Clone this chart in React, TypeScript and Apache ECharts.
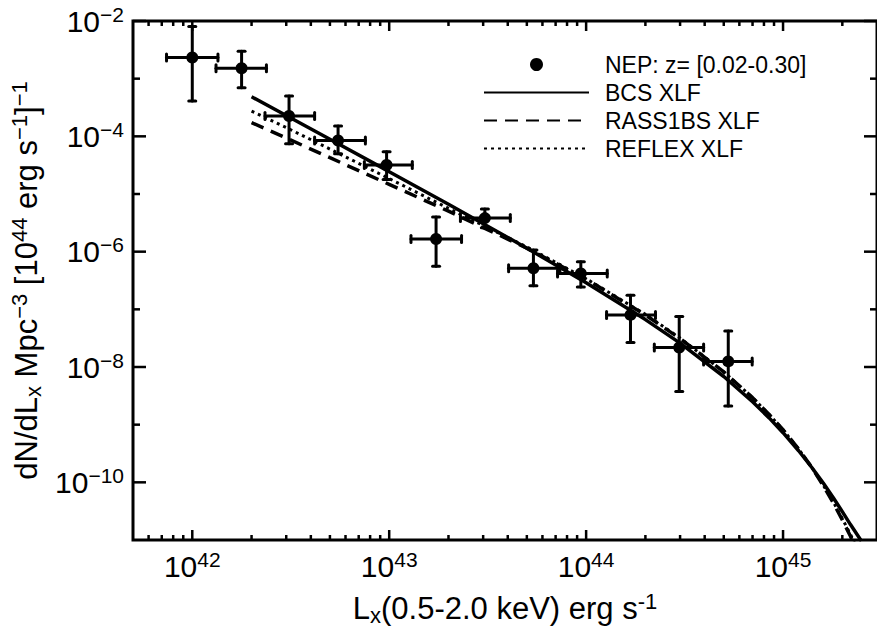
import React, { useEffect, useRef } from 'react';
import * as echarts from 'echarts';

const FONT = '"Liberation Sans", Arial, Helvetica, sans-serif';

// Axis ranges
const X_MIN = 5e41;
const X_MAX = 3e45;
const Y_MIN = 1e-11;
const Y_MAX = 1e-2;

// NEP data points (z = 0.02-0.30)
const nepLx = [1.0e42, 1.78e42, 3.1e42, 5.5e42, 9.7e42, 1.73e43, 3.06e43, 5.4e43, 9.4e43, 1.68e44, 2.97e44, 5.27e44];
const nepLxLow = [7.4e41, 1.32e42, 2.34e42, 4.18e42, 7.48e42, 1.29e43, 2.3e43, 4.04e43, 7.16e43, 1.27e44, 2.22e44, 3.95e44];
const nepLxHigh = [1.35e42, 2.38e42, 4.18e42, 7.57e42, 1.31e43, 2.33e43, 4.12e43, 7.36e43, 1.28e44, 2.25e44, 3.95e44, 6.97e44];
const nepPhi = [2.33e-3, 1.52e-3, 2.25e-4, 8.45e-5, 3.18e-5, 1.66e-6, 3.82e-6, 5.15e-7, 4.19e-7, 8.0e-8, 2.18e-8, 1.25e-8];
const nepPhiLow = [4.1e-4, 6.95e-4, 7.4e-5, 5.0e-5, 1.78e-5, 5.6e-7, 2.6e-6, 2.57e-7, 2.43e-7, 2.65e-8, 3.77e-9, 2.1e-9];
const nepPhiHigh = [8.0e-3, 3.0e-3, 5.0e-4, 1.51e-4, 5.4e-5, 3.98e-6, 5.5e-6, 1.07e-6, 6.7e-7, 1.75e-7, 7.5e-8, 4.19e-8];

// XLF curves
const xlfLx = [2e42, 3e42, 5e42, 1e43, 2e43, 5e43, 1e44, 2e44, 3e44, 5e44, 7e44, 8.5e44, 1e45, 1.2e45, 1.4e45, 1.6e45, 1.8e45, 2e45, 2.2e45, 2.5e45];
const bcsPhi = [4.86e-4, 2.3e-4, 8.89e-5, 2.44e-5, 6.64e-6, 1.15e-6, 2.9e-7, 6.64e-8, 2.59e-8, 6.84e-9, 2.5e-9, 1.31e-9, 7.26e-10, 3.53e-10, 1.81e-10, 9.7e-11, 5.4e-11, 3.1e-11, 1.85e-11, 9.6e-12];
const rassPhi = [1.73e-4, 9.35e-5, 4.26e-5, 1.47e-5, 5.04e-6, 1.15e-6, 3.33e-7, 7.98e-8, 3.11e-8, 8.22e-9, 2.94e-9, 1.5e-9, 8.15e-10, 3.78e-10, 1.81e-10, 8.75e-11, 4.38e-11, 2.23e-11, 1.16e-11, 4.49e-12];
const reflexPhi = [2.74e-4, 1.42e-4, 6.01e-5, 1.85e-5, 5.65e-6, 1.21e-6, 3.4e-7, 8.17e-8, 3.18e-8, 8.22e-9, 2.94e-9, 1.5e-9, 8.15e-10, 3.78e-10, 1.81e-10, 8.95e-11, 4.58e-11, 2.34e-11, 1.25e-11, 4.92e-12];

// Tick values
const xMajorTicks = [1e42, 1e43, 1e44, 1e45];
const xMinorDecades = [1e41, 1e42, 1e43, 1e44, 1e45];
const xMinorMultipliers = [2, 3, 4, 5, 6, 7, 8, 9];
const yMajorTicks = [1e-10, 1e-8, 1e-6, 1e-4, 1e-2];
const yMinorTicks = [1e-9, 1e-7, 1e-5, 1e-3];

const NAMES = ['NEP: z= [0.02-0.30]', 'BCS XLF', 'RASS1BS XLF', 'REFLEX XLF'];

function expOf(v: number): number | null {
  const l = Math.log10(v);
  const r = Math.round(l);
  return Math.abs(l - r) < 1e-6 ? r : null;
}

export default function App() {
  const ref = useRef<HTMLDivElement>(null);
  useEffect(() => {
    if (!ref.current) return;
    const chart = echarts.init(ref.current, undefined, { renderer: 'svg' });

    const tickData: number[][] = [];
    xMajorTicks.forEach((v) => tickData.push([v, Y_MIN, 0]));
    xMinorDecades.forEach((d) =>
      xMinorMultipliers.forEach((m) => {
        const v = d * m;
        if (v > X_MIN * 1.001 && v < X_MAX * 0.999) tickData.push([v, Y_MIN, 1]);
      })
    );
    yMajorTicks.forEach((v) => tickData.push([X_MIN, v, 2]));
    yMinorTicks.forEach((v) => tickData.push([X_MIN, v, 3]));

    const errData = nepLx.map((x, i) => [x, nepPhi[i], nepLxLow[i], nepLxHigh[i], nepPhiLow[i], nepPhiHigh[i]]);

    const labelRich = {
      b: { fontFamily: FONT, fontSize: 30, color: '#000' },
      s: { fontFamily: FONT, fontSize: 21, color: '#000', padding: [0, 0, 14, 0] },
    };
    const nameRich = {
      n: { fontFamily: FONT, fontSize: 31, color: '#000' },
      sub: { fontFamily: FONT, fontSize: 22, color: '#000', padding: [14, 0, 0, 0] },
      sup: { fontFamily: FONT, fontSize: 22, color: '#000', padding: [0, 0, 14, 0] },
    };

    const option: any = {
      animation: false,
      backgroundColor: '#fff',
      grid: {
        left: 133,
        right: -3,
        top: 21,
        bottom: 79,
        show: true,
        borderColor: '#000',
        borderWidth: 3,
        backgroundColor: 'transparent',
      },
      legend: {
        orient: 'vertical',
        left: 483,
        top: 53,
        padding: 0,
        itemWidth: 105,
        itemHeight: 13,
        itemGap: 5,
        selectedMode: false,
        data: [
          { name: NAMES[0] },
          { name: NAMES[1], itemStyle: { opacity: 0 } },
          { name: NAMES[2], itemStyle: { opacity: 0 } },
          { name: NAMES[3], itemStyle: { opacity: 0 } },
        ],
        textStyle: { fontFamily: FONT, fontSize: 23, color: '#000', padding: [0, 0, 0, 11] },
      },
      xAxis: {
        type: 'log',
        logBase: 10,
        min: X_MIN,
        max: X_MAX,
        axisLine: { show: false },
        axisTick: { show: false },
        splitLine: { show: false },
        minorTick: { show: false },
        axisLabel: {
          margin: 9,
          showMinLabel: false,
          showMaxLabel: false,
          formatter: (v: number) => {
            const e = expOf(v);
            return e === null ? '' : `{b|10}{s|${e}}`;
          },
          rich: labelRich,
        },
        name: '{n|L}{sub|x}{n|(0.5-2.0 keV) erg s}{sup|-1}',
        nameLocation: 'middle',
        nameGap: 50,
        nameTextStyle: { fontFamily: FONT, fontSize: 31, color: '#000', rich: nameRich },
      },
      yAxis: {
        type: 'log',
        logBase: 10,
        min: Y_MIN,
        max: Y_MAX,
        axisLine: { show: false },
        axisTick: { show: false },
        splitLine: { show: false },
        minorTick: { show: false },
        axisLabel: {
          margin: 9,
          showMinLabel: true,
          showMaxLabel: true,
          formatter: (v: number) => {
            const e = expOf(v);
            if (e === null || e % 2 !== 0) return '';
            return `{b|10}{s|${e < 0 ? '\u2212' + Math.abs(e) : e}}`;
          },
          rich: labelRich,
        },
        name: '{n|dN/dL}{sub|x}{n| Mpc}{sup|\u22123}{n| [10}{sup|44}{n| erg s}{sup|\u22121}{n|]}{sup|\u22121}',
        nameLocation: 'middle',
        nameRotate: 90,
        nameGap: 85,
        nameTextStyle: { fontFamily: FONT, fontSize: 31, color: '#000', rich: nameRich },
      },
      series: [
        {
          name: 'ticks',
          type: 'custom',
          silent: true,
          clip: false,
          z: 5,
          encode: { x: 0, y: 1 },
          data: tickData,
          renderItem: (params: any, api: any) => {
            const x = api.value(0);
            const y = api.value(1);
            const code = api.value(2);
            const st = { stroke: '#000', lineWidth: 2.5 };
            if (code < 2) {
              const b = api.coord([x, Y_MIN]);
              const t = api.coord([x, Y_MAX]);
              const len = code === 0 ? 10 : 5;
              return {
                type: 'group',
                children: [
                  { type: 'line', shape: { x1: b[0], y1: b[1], x2: b[0], y2: b[1] - len }, style: st },
                  { type: 'line', shape: { x1: t[0], y1: t[1], x2: t[0], y2: t[1] + len }, style: st },
                ],
              };
            }
            const l = api.coord([X_MIN, y]);
            const r = api.coord([X_MAX, y]);
            const len = code === 2 ? 13 : 7;
            return {
              type: 'group',
              children: [
                { type: 'line', shape: { x1: l[0], y1: l[1], x2: l[0] + len, y2: l[1] }, style: st },
                { type: 'line', shape: { x1: r[0], y1: r[1], x2: r[0] - len, y2: r[1] }, style: st },
              ],
            };
          },
        },
        {
          name: 'errors',
          type: 'custom',
          silent: true,
          z: 3,
          encode: { x: 0, y: 1 },
          data: errData,
          renderItem: (params: any, api: any) => {
            const x = api.value(0);
            const y = api.value(1);
            const pl = api.coord([api.value(2), y]);
            const pr = api.coord([api.value(3), y]);
            const pb = api.coord([x, api.value(4)]);
            const pt = api.coord([x, api.value(5)]);
            const st = { stroke: '#000', lineWidth: 3, lineCap: 'round' };
            const cap = 3.5;
            return {
              type: 'group',
              children: [
                { type: 'line', shape: { x1: pl[0], y1: pl[1], x2: pr[0], y2: pr[1] }, style: st },
                { type: 'line', shape: { x1: pb[0], y1: pb[1], x2: pt[0], y2: pt[1] }, style: st },
                { type: 'line', shape: { x1: pl[0], y1: pl[1] - cap, x2: pl[0], y2: pl[1] + cap }, style: st },
                { type: 'line', shape: { x1: pr[0], y1: pr[1] - cap, x2: pr[0], y2: pr[1] + cap }, style: st },
                { type: 'line', shape: { x1: pb[0] - cap, y1: pb[1], x2: pb[0] + cap, y2: pb[1] }, style: st },
                { type: 'line', shape: { x1: pt[0] - cap, y1: pt[1], x2: pt[0] + cap, y2: pt[1] }, style: st },
              ],
            };
          },
        },
        {
          name: NAMES[0],
          type: 'scatter',
          z: 4,
          symbol: 'circle',
          symbolSize: 12,
          itemStyle: { color: '#000', opacity: 1 },
          data: nepLx.map((x, i) => [x, nepPhi[i]]),
        },
        {
          name: NAMES[1],
          type: 'line',
          symbol: 'none',
          showSymbol: false,
          clip: true,
          z: 2,
          lineStyle: { color: '#000', width: 3.5, type: 'solid' },
          itemStyle: { color: '#000' },
          data: xlfLx.map((x, i) => [x, bcsPhi[i]]),
        },
        {
          name: NAMES[2],
          type: 'line',
          symbol: 'none',
          showSymbol: false,
          clip: true,
          z: 2,
          lineStyle: { color: '#000', width: 3.5, type: [13, 8] },
          itemStyle: { color: '#000' },
          data: xlfLx.map((x, i) => [x, rassPhi[i]]),
        },
        {
          name: NAMES[3],
          type: 'line',
          symbol: 'none',
          showSymbol: false,
          clip: true,
          z: 2,
          lineStyle: { color: '#000', width: 3, type: [3, 4] },
          itemStyle: { color: '#000' },
          data: xlfLx.map((x, i) => [x, reflexPhi[i]]),
        },
      ],
    };

    chart.setOption(option);
    return () => chart.dispose();
  }, []);

  return (
    <div
      ref={ref}
      style={{ position: 'fixed', left: 0, top: 0, width: 877, height: 631, background: '#fff' }}
    />
  );
}
